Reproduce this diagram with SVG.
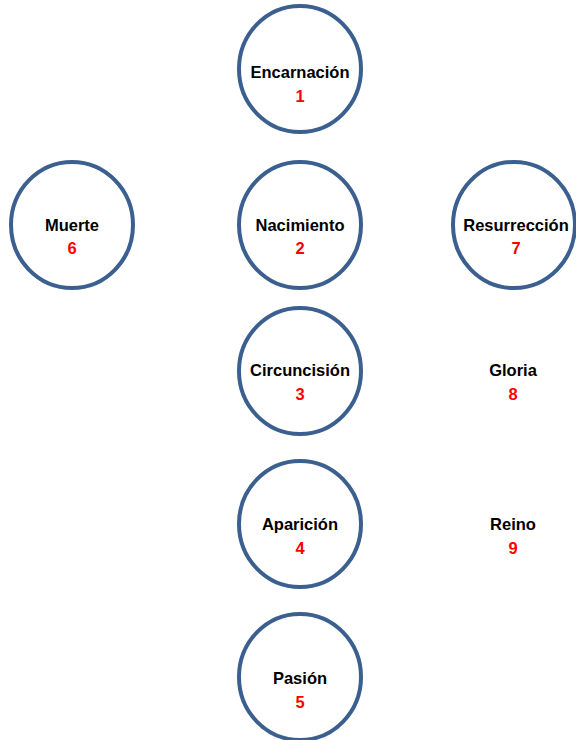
<svg xmlns="http://www.w3.org/2000/svg" width="576" height="740" viewBox="0 0 576 740">
<style>
.c{fill:#fff;stroke:#3b5f8f;stroke-width:4}
.t{font-family:"Liberation Sans",Arial,sans-serif;font-weight:bold;font-size:16.5px;fill:#000;text-anchor:middle}
.n{font-family:"Liberation Sans",Arial,sans-serif;font-weight:bold;font-size:16.5px;fill:#ff0000;text-anchor:middle}
</style>
<rect width="576" height="740" fill="#fff"/>
<g id="connectors"></g>
<g id="encarnacion"><ellipse class="c" cx="300" cy="69" rx="61" ry="63"/><text class="t" x="300" y="78">Encarnación</text><text class="n" x="300" y="102">1</text></g>
<g id="nacimiento"><ellipse class="c" cx="300" cy="225" rx="61" ry="63"/><text class="t" x="300" y="231">Nacimiento</text><text class="n" x="300" y="254">2</text></g>
<g id="circuncision"><ellipse class="c" cx="300" cy="371" rx="61" ry="63"/><text class="t" x="300" y="376">Circuncisión</text><text class="n" x="300" y="400">3</text></g>
<g id="aparicion"><ellipse class="c" cx="300" cy="524" rx="61" ry="63"/><text class="t" x="300" y="530">Aparición</text><text class="n" x="300" y="554">4</text></g>
<g id="pasion"><ellipse class="c" cx="300" cy="677" rx="61" ry="63"/><text class="t" x="300" y="684">Pasión</text><text class="n" x="300" y="708">5</text></g>
<g id="muerte"><ellipse class="c" cx="72" cy="225" rx="61" ry="63"/><text class="t" x="72" y="231">Muerte</text><text class="n" x="72" y="254">6</text></g>
<g id="resurreccion"><ellipse class="c" cx="514" cy="225" rx="61" ry="63"/><text class="t" x="516" y="231">Resurrección</text><text class="n" x="516" y="254">7</text></g>
<g id="gloria"><text class="t" x="513" y="376">Gloria</text><text class="n" x="513" y="400">8</text></g>
<g id="reino"><text class="t" x="513" y="530">Reino</text><text class="n" x="513" y="554">9</text></g>
</svg>
